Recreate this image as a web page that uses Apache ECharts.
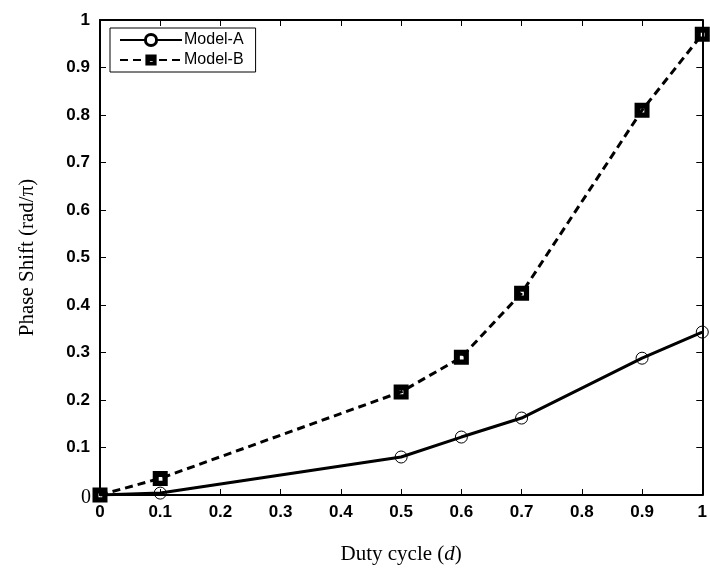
<!DOCTYPE html>
<html>
<head>
<meta charset="utf-8">
<script src="https://cdn.jsdelivr.net/npm/echarts@6/dist/echarts.min.js"></script>
<style>html,body{margin:0;padding:0;background:#fff}#c{width:710px;height:576px}</style>
</head>
<body>
<div id="c"></div>
<script>
const dutyCycle = [0, 0.1, 0.5, 0.6, 0.7, 0.9, 1.0];
const modelA = [0, 0.004, 0.08, 0.122, 0.162, 0.288, 0.343];
const modelB = [0, 0.035, 0.217, 0.29, 0.425, 0.81, 0.97];
const seriesNames = ['Model-A', 'Model-B'];

const chart = echarts.init(document.getElementById('c'));
const pair = (xs, ys) => xs.map((x, i) => [x, ys[i]]);
const tickFmt = v => {
  if (Math.abs(v) < 1e-9) return '0';
  if (Math.abs(v - 1) < 1e-9) return '1';
  return v.toFixed(1);
};
const squareSym = 'path://M0,0H10V10H0Z M4,4V6.5H6.5V4Z';
const tick = { show: true, inside: true, length: 6, lineStyle: { color: '#000', width: 1 } };
const line = { show: true, onZero: false, lineStyle: { color: '#000', width: 2 } };

chart.setOption({
  animation: false,
  backgroundColor: '#fff',
  grid: { left: 100, right: 4, top: 20, bottom: 81, containLabel: false },
  legend: {
    left: 110, top: 28, orient: 'vertical',
    borderColor: '#000', borderWidth: 1, borderRadius: 0,
    padding: [4, 12, 4, 9],
    itemWidth: 62, itemHeight: 14, itemGap: 4,
    textStyle: { fontFamily: 'Liberation Sans, Arial', fontSize: 16, color: '#000', padding: [0, 0, 0, -3] },
    data: [
      { name: seriesNames[0], itemStyle: { color: '#fff', borderColor: '#000', borderWidth: 3 } },
      { name: seriesNames[1] }
    ]
  },
  xAxis: [{
    type: 'value', min: 0, max: 1, interval: 0.1,
    name: 'Duty cycle ({i|d})',
    nameLocation: 'middle', nameGap: 49,
    nameTextStyle: {
      fontFamily: 'Liberation Serif, Times New Roman', fontSize: 21, color: '#000',
      rich: { i: { fontFamily: 'Liberation Serif, Times New Roman', fontSize: 21, fontStyle: 'italic', color: '#000' } }
    },
    axisLine: line, axisTick: tick,
    splitLine: { show: false },
    axisLabel: {
      formatter: tickFmt, margin: 9,
      fontFamily: 'Liberation Sans, Arial', fontSize: 17, fontWeight: 'bold', color: '#000'
    }
  }, {
    type: 'value', min: 0, max: 1, interval: 0.1, position: 'top',
    axisLine: line, axisTick: tick,
    axisLabel: { show: false }, splitLine: { show: false }
  }],
  yAxis: [{
    type: 'value', min: 0, max: 1, interval: 0.1,
    name: 'Phase Shift (rad/π)',
    nameLocation: 'middle', nameGap: 62,
    nameTextStyle: { fontFamily: 'Liberation Serif, Times New Roman', fontSize: 21, color: '#000' },
    axisLine: line, axisTick: tick,
    splitLine: { show: false },
    axisLabel: {
      formatter: v => Math.abs(v) < 1e-9 ? '{z|0}' : tickFmt(v),
      margin: 10,
      fontFamily: 'Liberation Sans, Arial', fontSize: 17, fontWeight: 'bold', color: '#000',
      rich: { z: { fontFamily: 'Liberation Serif, Times New Roman', fontWeight: 'normal', fontSize: 20, color: '#000', padding: [0, -1, -6, 0] } }
    }
  }, {
    type: 'value', min: 0, max: 1, interval: 0.1, position: 'right',
    axisLine: line, axisTick: tick,
    axisLabel: { show: false }, splitLine: { show: false }
  }],
  series: [{
    name: 'Model-A', type: 'line',
    data: pair(dutyCycle, modelA),
    symbol: 'circle', symbolSize: 12,
    lineStyle: { color: '#000', width: 3, type: 'solid' },
    itemStyle: { color: 'transparent', borderColor: '#000', borderWidth: 1 },
    z: 3
  }, {
    name: 'Model-B', type: 'line',
    data: pair(dutyCycle, modelB),
    symbol: squareSym, symbolSize: 15, symbolKeepAspect: true,
    lineStyle: { color: '#000', width: 3, type: [8, 5] },
    itemStyle: { color: '#000' },
    z: 4
  }]
});
</script>
</body>
</html>
